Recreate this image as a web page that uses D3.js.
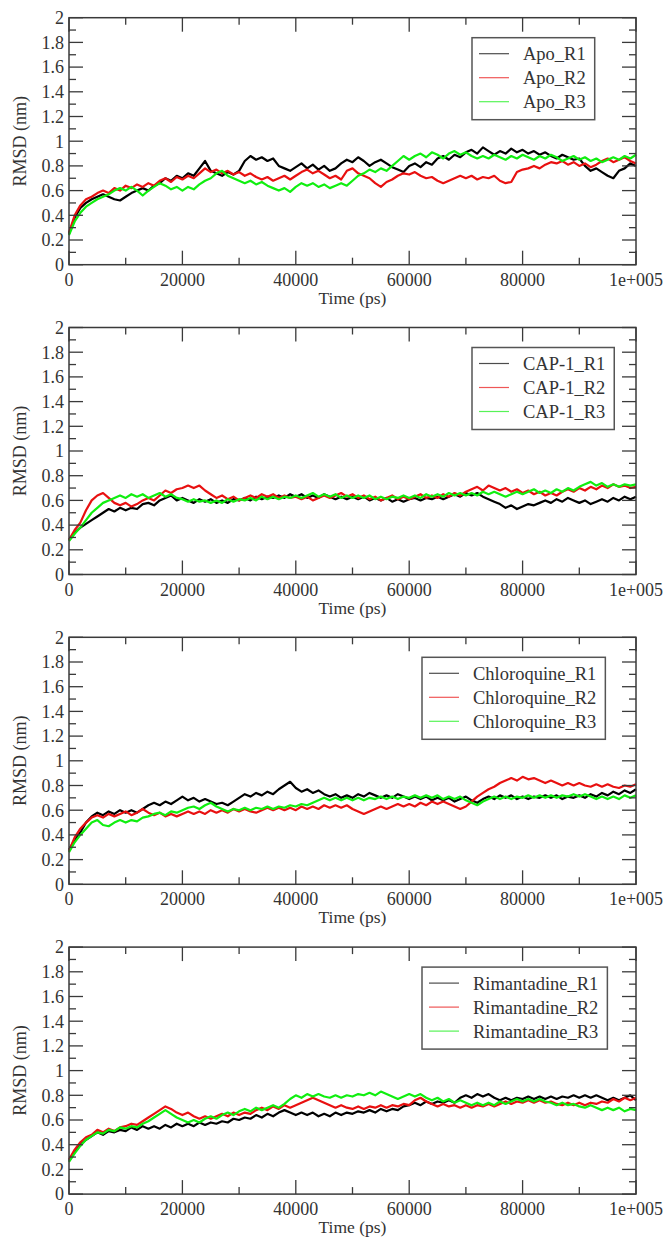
<!DOCTYPE html>
<html lang="en">
<head>
<meta charset="UTF-8">
<title>RMSD</title>
<script src="https://d3js.org/d3.v7.min.js"></script>
<style>
  body { margin: 0; background: #fff; }
  svg text { font-family: "Liberation Serif", Tinos, "Times New Roman", Times, "DejaVu Serif", serif; fill: #333; }
</style>
</head>
<body>
<script>
// time axis, one sample every 1000 ps
var timePs = d3.range(0, 100001, 1000);

var panelNames = ["Apo", "CAP-1", "Chloroquine", "Rimantadine"];
var runNames = ["R1", "R2", "R3"];
var runColors = ["#000000", "#e81010", "#10ee10"];

var yTicks = [0, 0.2, 0.4, 0.6, 0.8, 1, 1.2, 1.4, 1.6, 1.8, 2];
var yTickLabels = ["0", "0.2", "0.4", "0.6", "0.8", "1", "1.2", "1.4", "1.6", "1.8", "2"];
var xTicks = [0, 20000, 40000, 60000, 80000, 100000];
var xTickLabels = ["0", "20000", "40000", "60000", "80000", "1e+005"];

// RMSD (nm)
var apoR1 = [0.25,0.38,0.46,0.50,0.53,0.55,0.57,0.55,0.53,0.52,0.55,0.58,0.60,0.62,0.60,0.64,0.66,0.70,0.68,0.72,0.70,
  0.74,0.72,0.78,0.84,0.76,0.74,0.72,0.75,0.73,0.76,0.84,0.88,0.85,0.87,0.84,0.86,0.80,0.78,0.76,0.79,
  0.82,0.78,0.81,0.77,0.80,0.76,0.78,0.82,0.85,0.83,0.87,0.84,0.80,0.83,0.85,0.82,0.79,0.77,0.75,0.80,
  0.82,0.79,0.83,0.81,0.86,0.88,0.85,0.89,0.87,0.91,0.93,0.90,0.95,0.92,0.89,0.92,0.90,0.94,0.91,0.93,
  0.90,0.92,0.89,0.91,0.88,0.86,0.89,0.87,0.85,0.86,0.80,0.76,0.78,0.75,0.72,0.70,0.76,0.78,0.82,0.80];
var apoR2 = [0.26,0.40,0.48,0.53,0.55,0.58,0.60,0.58,0.62,0.60,0.64,0.62,0.65,0.63,0.66,0.64,0.68,0.70,0.67,0.71,0.69,
  0.72,0.70,0.74,0.78,0.75,0.77,0.74,0.76,0.73,0.75,0.72,0.74,0.71,0.69,0.71,0.68,0.70,0.72,0.69,0.72,
  0.75,0.77,0.74,0.76,0.73,0.70,0.72,0.69,0.76,0.78,0.74,0.72,0.70,0.66,0.63,0.67,0.69,0.72,0.74,0.73,
  0.75,0.72,0.70,0.71,0.68,0.66,0.68,0.70,0.72,0.70,0.72,0.69,0.71,0.70,0.72,0.68,0.66,0.67,0.75,0.77,
  0.78,0.80,0.78,0.81,0.83,0.82,0.84,0.81,0.83,0.80,0.82,0.79,0.81,0.84,0.86,0.83,0.85,0.87,0.84,0.82];
var apoR3 = [0.24,0.35,0.42,0.47,0.50,0.53,0.55,0.57,0.60,0.62,0.60,0.63,0.60,0.56,0.60,0.63,0.66,0.64,0.61,0.63,0.60,
  0.63,0.61,0.65,0.68,0.70,0.74,0.76,0.72,0.70,0.68,0.66,0.68,0.65,0.67,0.64,0.62,0.60,0.62,0.59,0.63,
  0.66,0.64,0.66,0.63,0.65,0.62,0.64,0.66,0.64,0.68,0.72,0.74,0.77,0.75,0.78,0.76,0.80,0.84,0.88,0.85,
  0.88,0.90,0.87,0.91,0.89,0.86,0.90,0.92,0.89,0.91,0.88,0.86,0.88,0.86,0.89,0.87,0.85,0.88,0.86,0.89,
  0.87,0.85,0.88,0.86,0.89,0.87,0.84,0.86,0.88,0.85,0.87,0.84,0.86,0.83,0.85,0.87,0.85,0.88,0.86,0.89];

var capR1 = [0.28,0.34,0.38,0.41,0.44,0.47,0.50,0.53,0.51,0.54,0.52,0.54,0.53,0.57,0.58,0.56,0.60,0.62,0.64,0.60,0.62,
  0.60,0.58,0.61,0.59,0.61,0.58,0.60,0.58,0.61,0.60,0.62,0.60,0.63,0.61,0.63,0.62,0.64,0.62,0.65,0.63,
  0.65,0.62,0.64,0.62,0.65,0.63,0.61,0.63,0.61,0.63,0.61,0.63,0.60,0.62,0.60,0.62,0.59,0.61,0.59,0.61,
  0.62,0.60,0.62,0.61,0.63,0.61,0.63,0.65,0.63,0.66,0.64,0.66,0.63,0.61,0.59,0.57,0.54,0.56,0.53,0.55,
  0.57,0.56,0.58,0.60,0.58,0.61,0.59,0.62,0.60,0.58,0.60,0.57,0.59,0.61,0.59,0.62,0.60,0.63,0.61,0.63];
var capR2 = [0.28,0.36,0.42,0.52,0.60,0.64,0.66,0.62,0.58,0.56,0.58,0.55,0.57,0.60,0.62,0.60,0.64,0.68,0.66,0.69,0.70,
  0.72,0.70,0.72,0.68,0.65,0.62,0.64,0.61,0.63,0.60,0.62,0.64,0.62,0.65,0.63,0.65,0.62,0.64,0.62,0.63,
  0.61,0.63,0.60,0.62,0.64,0.62,0.64,0.66,0.63,0.65,0.62,0.64,0.61,0.63,0.60,0.62,0.64,0.61,0.63,0.61,
  0.63,0.65,0.62,0.64,0.62,0.65,0.63,0.66,0.64,0.67,0.69,0.71,0.68,0.72,0.70,0.68,0.70,0.67,0.69,0.66,
  0.68,0.65,0.67,0.64,0.66,0.64,0.67,0.69,0.67,0.70,0.68,0.71,0.69,0.72,0.70,0.73,0.71,0.72,0.70,0.71];
var capR3 = [0.27,0.33,0.38,0.44,0.50,0.54,0.58,0.60,0.62,0.64,0.62,0.65,0.63,0.65,0.62,0.64,0.66,0.63,0.65,0.62,0.61,
  0.59,0.61,0.59,0.60,0.58,0.60,0.58,0.61,0.59,0.61,0.60,0.62,0.60,0.63,0.61,0.63,0.61,0.63,0.62,0.64,
  0.62,0.64,0.66,0.63,0.65,0.63,0.65,0.62,0.64,0.62,0.64,0.62,0.64,0.61,0.63,0.61,0.63,0.62,0.64,0.62,
  0.64,0.62,0.65,0.63,0.65,0.63,0.66,0.64,0.66,0.64,0.66,0.64,0.67,0.65,0.67,0.65,0.63,0.65,0.67,0.65,
  0.67,0.69,0.66,0.68,0.66,0.69,0.67,0.70,0.68,0.71,0.73,0.75,0.72,0.74,0.71,0.73,0.71,0.73,0.72,0.73];

var chlR1 = [0.28,0.36,0.42,0.50,0.55,0.58,0.56,0.59,0.57,0.60,0.58,0.60,0.58,0.61,0.64,0.66,0.64,0.67,0.65,0.68,0.71,
  0.68,0.70,0.67,0.69,0.67,0.65,0.66,0.64,0.67,0.70,0.73,0.71,0.74,0.72,0.75,0.73,0.77,0.80,0.83,0.78,
  0.75,0.77,0.74,0.76,0.73,0.71,0.73,0.70,0.72,0.70,0.73,0.71,0.74,0.72,0.70,0.72,0.70,0.73,0.71,0.69,
  0.71,0.69,0.71,0.68,0.70,0.68,0.70,0.67,0.69,0.71,0.68,0.66,0.69,0.71,0.69,0.72,0.70,0.72,0.69,0.71,
  0.69,0.71,0.70,0.72,0.70,0.72,0.69,0.71,0.70,0.72,0.70,0.73,0.71,0.74,0.72,0.75,0.73,0.76,0.74,0.77];
var chlR2 = [0.27,0.38,0.45,0.50,0.54,0.56,0.54,0.57,0.55,0.57,0.59,0.56,0.58,0.61,0.58,0.56,0.58,0.55,0.57,0.55,0.57,
  0.59,0.57,0.59,0.57,0.60,0.58,0.60,0.58,0.61,0.59,0.61,0.59,0.58,0.60,0.62,0.60,0.62,0.60,0.62,0.60,
  0.63,0.61,0.63,0.61,0.64,0.62,0.64,0.62,0.64,0.61,0.59,0.57,0.59,0.61,0.63,0.61,0.63,0.65,0.63,0.65,
  0.63,0.66,0.64,0.67,0.65,0.67,0.65,0.63,0.61,0.63,0.67,0.71,0.74,0.77,0.79,0.82,0.84,0.86,0.84,0.87,
  0.85,0.86,0.84,0.82,0.84,0.82,0.80,0.82,0.80,0.82,0.80,0.79,0.81,0.79,0.81,0.79,0.78,0.80,0.79,0.81];
var chlR3 = [0.26,0.34,0.40,0.45,0.50,0.52,0.48,0.47,0.50,0.52,0.50,0.52,0.51,0.54,0.55,0.57,0.58,0.56,0.59,0.58,0.60,
  0.62,0.63,0.61,0.64,0.66,0.63,0.61,0.59,0.61,0.60,0.62,0.60,0.62,0.61,0.63,0.61,0.63,0.62,0.64,0.63,
  0.65,0.64,0.66,0.68,0.70,0.68,0.70,0.68,0.70,0.68,0.70,0.68,0.70,0.69,0.71,0.69,0.71,0.69,0.71,0.70,
  0.72,0.70,0.72,0.70,0.72,0.69,0.71,0.69,0.71,0.68,0.66,0.64,0.67,0.69,0.71,0.69,0.71,0.69,0.71,0.70,
  0.72,0.70,0.72,0.70,0.72,0.70,0.72,0.71,0.73,0.71,0.73,0.71,0.69,0.71,0.69,0.71,0.69,0.72,0.70,0.72];

var rimR1 = [0.27,0.34,0.40,0.44,0.47,0.50,0.48,0.51,0.50,0.52,0.51,0.54,0.52,0.55,0.53,0.55,0.53,0.56,0.54,0.57,0.55,
  0.57,0.55,0.58,0.56,0.58,0.57,0.59,0.58,0.61,0.60,0.62,0.61,0.64,0.62,0.65,0.63,0.66,0.68,0.66,0.64,
  0.66,0.64,0.66,0.63,0.65,0.63,0.66,0.64,0.66,0.65,0.67,0.66,0.68,0.66,0.69,0.67,0.69,0.68,0.71,0.72,
  0.74,0.72,0.75,0.73,0.75,0.74,0.76,0.74,0.78,0.80,0.78,0.81,0.79,0.81,0.78,0.76,0.78,0.76,0.78,0.77,
  0.79,0.77,0.79,0.77,0.79,0.77,0.79,0.78,0.80,0.78,0.80,0.78,0.80,0.78,0.76,0.78,0.76,0.78,0.80,0.76];
var rimR2 = [0.28,0.36,0.42,0.46,0.48,0.52,0.50,0.53,0.51,0.54,0.55,0.57,0.56,0.59,0.62,0.65,0.68,0.71,0.69,0.66,0.64,
  0.66,0.63,0.61,0.63,0.61,0.63,0.65,0.63,0.66,0.64,0.66,0.65,0.68,0.70,0.68,0.71,0.69,0.72,0.70,0.72,
  0.74,0.76,0.78,0.76,0.74,0.72,0.70,0.72,0.70,0.69,0.71,0.69,0.71,0.70,0.72,0.70,0.72,0.71,0.73,0.72,
  0.76,0.78,0.75,0.73,0.71,0.73,0.71,0.72,0.70,0.72,0.70,0.72,0.71,0.73,0.71,0.73,0.75,0.73,0.75,0.74,
  0.76,0.74,0.76,0.74,0.75,0.73,0.72,0.74,0.72,0.74,0.72,0.74,0.73,0.75,0.74,0.77,0.75,0.78,0.76,0.78];
var rimR3 = [0.26,0.33,0.39,0.44,0.47,0.50,0.49,0.52,0.51,0.54,0.53,0.55,0.54,0.57,0.59,0.62,0.65,0.68,0.65,0.62,0.60,
  0.58,0.60,0.58,0.61,0.63,0.61,0.64,0.66,0.64,0.67,0.69,0.67,0.70,0.68,0.70,0.72,0.70,0.73,0.77,0.80,
  0.78,0.81,0.79,0.81,0.79,0.78,0.80,0.78,0.80,0.79,0.81,0.80,0.82,0.80,0.83,0.81,0.79,0.77,0.79,0.81,
  0.79,0.81,0.78,0.76,0.78,0.75,0.77,0.74,0.76,0.74,0.72,0.74,0.72,0.74,0.72,0.75,0.73,0.75,0.77,0.75,
  0.77,0.75,0.77,0.75,0.74,0.72,0.74,0.72,0.73,0.71,0.70,0.72,0.70,0.68,0.70,0.68,0.70,0.67,0.69,0.68];

var panelSeries = [
  [apoR1, apoR2, apoR3],
  [capR1, capR2, capR3],
  [chlR1, chlR2, chlR3],
  [rimR1, rimR2, rimR3]
];

// layout
var W = 667, H = 1239;
var plotLeft = 69, plotRight = 636;
var panelTop0 = 17.7, panelStep = 309.8, panelH = 247;
var legendLeft = [472, 472, 422, 422];
var serif = "'Liberation Serif', Tinos, 'Times New Roman', Times, 'DejaVu Serif', serif";

var svg = d3.select("body").append("svg")
    .attr("width", W)
    .attr("height", H)
    .attr("font-family", serif)
    .style("background", "#fff");

var x = d3.scaleLinear().domain([0, 100000]).range([plotLeft, plotRight]);

var axisColor = "#3a3a3a";

panelNames.forEach(function(name, p) {
    var top = panelTop0 + p * panelStep;
    var bottom = top + panelH;
    var y = d3.scaleLinear().domain([0, 2]).range([bottom, top]);
    var g = svg.append("g");

    // lines (R1 first, R3 on top)
    var line = d3.line()
        .x(function(d, i) { return x(timePs[i]); })
        .y(function(d) { return y(d); });

    panelSeries[p].forEach(function(vals, k) {
        g.append("path")
            .datum(vals)
            .attr("fill", "none")
            .attr("stroke", runColors[k])
            .attr("stroke-width", 2.2)
            .attr("stroke-linejoin", "round")
            .attr("d", line);
    });

    // inward ticks on all four sides
    var yMinor = d3.range(0, 2.0001, 0.1);
    var xMinor = d3.range(0, 100001, 10000);
    var tg = g.append("g").attr("stroke", axisColor).attr("stroke-width", 1.3);

    yMinor.forEach(function(v, i) {
        var len = (i % 2 === 0) ? 14 : 7;
        var yy = y(v);
        tg.append("line").attr("x1", plotLeft).attr("x2", plotLeft + len).attr("y1", yy).attr("y2", yy);
        tg.append("line").attr("x1", plotRight).attr("x2", plotRight - len).attr("y1", yy).attr("y2", yy);
    });
    xMinor.forEach(function(v, i) {
        var len = (i % 2 === 0) ? 14 : 7;
        var xx = x(v);
        tg.append("line").attr("x1", xx).attr("x2", xx).attr("y1", bottom).attr("y2", bottom - len);
        tg.append("line").attr("x1", xx).attr("x2", xx).attr("y1", top).attr("y2", top + len);
    });

    // frame
    g.append("rect")
        .attr("x", plotLeft).attr("y", top)
        .attr("width", plotRight - plotLeft).attr("height", panelH)
        .attr("fill", "none")
        .attr("stroke", axisColor)
        .attr("stroke-width", 1.5);

    // tick labels
    yTicks.forEach(function(v, i) {
        g.append("text")
            .attr("x", plotLeft - 5)
            .attr("y", y(v))
            .attr("dy", "0.35em")
            .attr("text-anchor", "end")
            .attr("font-family", serif)
            .style("font-size", "18px")
            .text(yTickLabels[i]);
    });
    xTicks.forEach(function(v, i) {
        g.append("text")
            .attr("x", x(v))
            .attr("y", bottom + 21)
            .attr("text-anchor", "middle")
            .attr("font-family", serif)
            .style("font-size", "18px")
            .text(xTickLabels[i]);
    });

    // axis titles
    g.append("text")
        .attr("x", (plotLeft + plotRight) / 2)
        .attr("y", bottom + 39)
        .attr("text-anchor", "middle")
        .attr("font-family", serif)
        .style("font-size", "17.5px")
        .text("Time (ps)");
    g.append("text")
        .attr("transform", "translate(26," + ((top + bottom) / 2) + ") rotate(-90)")
        .attr("text-anchor", "middle")
        .attr("font-family", serif)
        .style("font-size", "18px")
        .text("RMSD (nm)");

    // legend
    var lx = legendLeft[p];
    var lg = g.append("g");
    var rowsY = [36, 60, 84];
    var maxW = 0;
    runNames.forEach(function(r, k) {
        var t = lg.append("text")
            .attr("x", lx + 51)
            .attr("y", top + rowsY[k])
            .attr("dy", "0.35em")
            .attr("font-family", serif)
            .style("font-size", "18.5px")
            .text(name + "_" + r);
        maxW = Math.max(maxW, t.node().getComputedTextLength());
        lg.append("line")
            .attr("x1", lx + 7).attr("x2", lx + 37)
            .attr("y1", top + rowsY[k]).attr("y2", top + rowsY[k])
            .attr("stroke", runColors[k])
            .attr("stroke-opacity", 0.7)
            .attr("stroke-width", 1.2);
    });
    lg.insert("rect", ":first-child")
        .attr("x", lx).attr("y", top + 20)
        .attr("width", 51 + maxW + 9).attr("height", 82)
        .attr("fill", "#fff")
        .attr("stroke", "#555")
        .attr("stroke-width", 1.5);
});
</script>
</body>
</html>
